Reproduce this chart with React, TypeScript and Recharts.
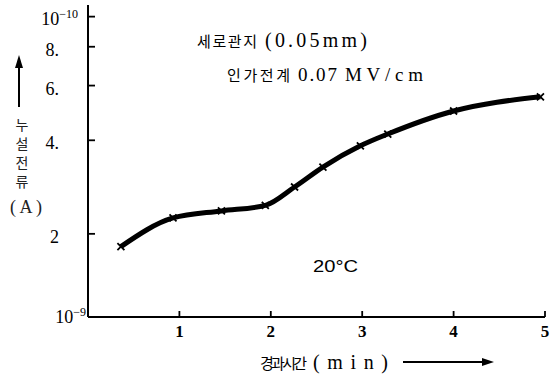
import React from 'react';
import { LineChart, Line, XAxis, YAxis } from 'recharts';

// elapsed time (min) and leakage current (x10^-10 A scale as labelled)
const elapsedMin = [0.36, 0.93, 1.46, 1.94, 2.26, 2.57, 2.98, 3.28, 4.0, 4.95];
const leakCurrent = [1.82, 2.25, 2.37, 2.47, 2.83, 3.28, 3.84, 4.19, 4.97, 5.52];

const xTicks = [1, 2, 3, 4, 5];
const yTicks = [1.08, 2, 4, 6, 8, 10];
const yTickBase = ['10', '2', '4.', '6.', '8.', '10'];
const yTickSup = ['−9', '', '', '', '', '−10'];

const annot1Kr = '세로관지';
const annot1Val = '(0.05mm)';
const annot2Kr = '인가전계';
const annot2Val = '0.07';
const annot2Unit = 'MV/cm';
const tempLabel = '20°C';
const xTitleKr = '경과시간';
const xTitleUnit = '(min)';
const yTitleChars = ['누', '설', '전', '류'];
const yTitleUnit = '(A)';

const data = elapsedMin.map((t, i) => ({ t, v: leakCurrent[i] }));

const SERIF = "Liberation Serif, Times New Roman, Times, DejaVu Serif, serif";
const KR = "Noto Sans CJK KR, sans-serif";
const SANS = "Liberation Sans, Arial, sans-serif";

const YTick = (props: any) => {
  const { x, y, payload } = props;
  const i = yTicks.indexOf(payload.value);
  if (i < 0) return null;
  const sup = yTickSup[i];
  const isPow = sup !== '';
  const off = i === 0 ? 2 : isPow ? 10 : 29;
  return (
    <g>
      {i > 0 && <line x1={x} y1={y} x2={x + 7} y2={y} stroke="#000" strokeWidth={1.8} />}
      <text
        x={x - off}
        y={y + (i === 0 ? 6 : isPow ? 8 : 9)}
        textAnchor="end"
        style={{ fontFamily: SERIF }}
        fontSize={18}
        fill="#000"
      >
        {yTickBase[i]}
        {isPow && (
          <tspan dy={-7} fontSize={12}>
            {sup}
          </tspan>
        )}
      </text>
    </g>
  );
};

const XTick = (props: any) => {
  const { x, y, payload } = props;
  return (
    <g>
      <line x1={x} y1={y} x2={x} y2={y - 6} stroke="#000" strokeWidth={1.8} />
      <text x={x} y={y + 20} textAnchor="middle" style={{ fontFamily: SERIF }} fontSize={17} fontWeight="bold" fill="#000">
        {payload.value}
      </text>
    </g>
  );
};

const XDot = (props: any) => {
  const { cx, cy } = props;
  if (cx == null || cy == null) return null;
  const s = 3.5;
  return (
    <path
      d={`M${cx - s},${cy - s}L${cx + s},${cy + s}M${cx - s},${cy + s}L${cx + s},${cy - s}`}
      stroke="#000"
      strokeWidth={1.8}
      fill="none"
    />
  );
};

export default function App() {
  return (
    <div style={{ position: 'absolute', left: 0, top: 0, width: 550, height: 380, background: '#fff' }}>
      <LineChart width={550} height={380} data={data} margin={{ top: 5, right: 5, bottom: 0, left: 0 }}>
        <XAxis
          type="number"
          dataKey="t"
          domain={[0, 5]}
          ticks={xTicks}
          interval={0}
          tick={<XTick />}
          tickLine={false}
          tickSize={0}
          tickMargin={0}
          height={63}
          axisLine={{ stroke: '#000', strokeWidth: 2 }}
        />
        <YAxis
          type="number"
          scale="log"
          domain={[1.08, 10.9]}
          allowDataOverflow
          ticks={yTicks}
          interval={0}
          tick={<YTick />}
          tickLine={false}
          tickSize={0}
          tickMargin={0}
          width={88}
          axisLine={{ stroke: '#000', strokeWidth: 2 }}
        />
        <Line
          type="monotone"
          dataKey="v"
          stroke="#000"
          strokeWidth={5}
          dot={<XDot />}
          activeDot={false}
          isAnimationActive={false}
        />
      </LineChart>
      <svg
        width={550}
        height={380}
        style={{ position: 'absolute', left: 0, top: 0, pointerEvents: 'none' }}
      >
        <text x={197} y={47} style={{ fontFamily: KR }} fontSize={15} textLength={60} lengthAdjust="spacing" fill="#000">
          {annot1Kr}
        </text>
        <text x={265} y={47} style={{ fontFamily: SERIF }} fontSize={20} textLength={102} lengthAdjust="spacing" fill="#000">
          {annot1Val}
        </text>
        <text x={227} y={81} style={{ fontFamily: KR }} fontSize={15} textLength={63} lengthAdjust="spacing" fill="#000">
          {annot2Kr}
        </text>
        <text x={298} y={81} style={{ fontFamily: SERIF }} fontSize={19} textLength={39} lengthAdjust="spacing" fill="#000">
          {annot2Val}
        </text>
        <text x={345} y={81} style={{ fontFamily: SERIF }} fontSize={19} textLength={78} lengthAdjust="spacing" fill="#000">
          {annot2Unit}
        </text>
        <text x={313} y={272} style={{ fontFamily: SANS }} fontSize={17} textLength={45} lengthAdjust="spacingAndGlyphs" fill="#000">
          {tempLabel}
        </text>
        <text x={260} y={369} style={{ fontFamily: KR }} fontSize={15} textLength={47} lengthAdjust="spacing" fill="#000">
          {xTitleKr}
        </text>
        <text x={313} y={369} style={{ fontFamily: SERIF }} fontSize={20} textLength={75} lengthAdjust="spacing" fill="#000">
          {xTitleUnit}
        </text>
        <line x1={403} y1={362} x2={484} y2={362} stroke="#000" strokeWidth={2} />
        <polygon points="494,362 482,358 482,366" fill="#000" />
        <line x1={19} y1={107} x2={19} y2={66} stroke="#000" strokeWidth={2} />
        <polygon points="19,55 15,68 23,68" fill="#000" />
        {yTitleChars.map((c, i) => (
          <text key={c} x={22} y={130 + i * 19} textAnchor="middle" style={{ fontFamily: KR }} fontSize={14} fill="#222">
            {c}
          </text>
        ))}
        <text x={26} y={213} textAnchor="middle" style={{ fontFamily: SERIF }} fontSize={18} textLength={32} lengthAdjust="spacing" fill="#222">
          {yTitleUnit}
        </text>
      </svg>
    </div>
  );
}
